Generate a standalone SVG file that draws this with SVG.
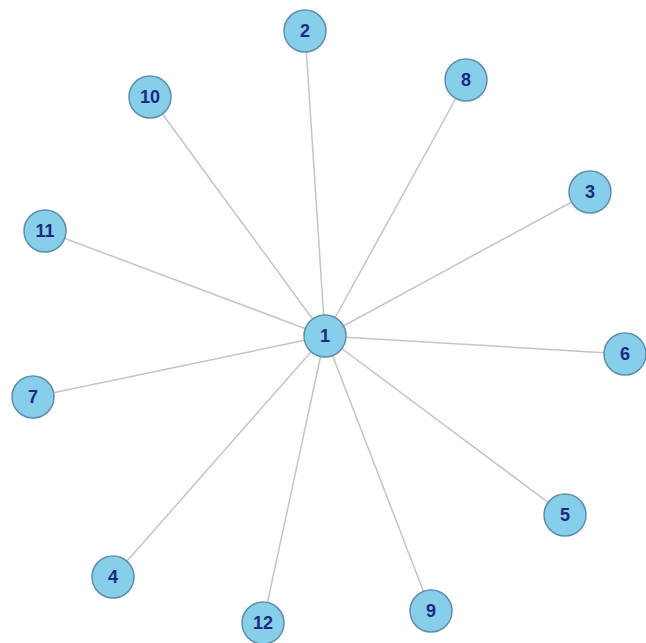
<svg xmlns="http://www.w3.org/2000/svg" width="646" height="643" viewBox="0 0 646 643">
<style>
.edge{stroke:#c4c4c4;stroke-width:1.5;fill:none}
.node circle{fill:#87ceeb;stroke:#5f8fa8;stroke-width:1.5}
.node text{font-family:"Liberation Sans",Arial,sans-serif;font-weight:bold;font-size:18px;fill:#1a2a80;text-anchor:middle;dominant-baseline:central}
</style>
<rect width="646" height="643" fill="#ffffff"/>
<g id="connectors">
<line class="edge" x1="325" y1="336" x2="305" y2="31"/>
<line class="edge" x1="325" y1="336" x2="466" y2="80"/>
<line class="edge" x1="325" y1="336" x2="150" y2="97"/>
<line class="edge" x1="325" y1="336" x2="590" y2="192"/>
<line class="edge" x1="325" y1="336" x2="45" y2="231"/>
<line class="edge" x1="325" y1="336" x2="625" y2="354"/>
<line class="edge" x1="325" y1="336" x2="33" y2="397"/>
<line class="edge" x1="325" y1="336" x2="565" y2="515"/>
<line class="edge" x1="325" y1="336" x2="113" y2="577"/>
<line class="edge" x1="325" y1="336" x2="263" y2="623"/>
<line class="edge" x1="325" y1="336" x2="431" y2="611"/>
</g>
<g id="node1" class="node"><circle cx="325" cy="336" r="21"/><text x="325" y="336">1</text></g>
<g id="node2" class="node"><circle cx="305" cy="31" r="21"/><text x="305" y="31">2</text></g>
<g id="node8" class="node"><circle cx="466" cy="80" r="21"/><text x="466" y="80">8</text></g>
<g id="node10" class="node"><circle cx="150" cy="97" r="21"/><text x="150" y="97">10</text></g>
<g id="node3" class="node"><circle cx="590" cy="192" r="21"/><text x="590" y="192">3</text></g>
<g id="node11" class="node"><circle cx="45" cy="231" r="21"/><text x="45" y="231">11</text></g>
<g id="node6" class="node"><circle cx="625" cy="354" r="21"/><text x="625" y="354">6</text></g>
<g id="node7" class="node"><circle cx="33" cy="397" r="21"/><text x="33" y="397">7</text></g>
<g id="node5" class="node"><circle cx="565" cy="515" r="21"/><text x="565" y="515">5</text></g>
<g id="node4" class="node"><circle cx="113" cy="577" r="21"/><text x="113" y="577">4</text></g>
<g id="node12" class="node"><circle cx="263" cy="623" r="21"/><text x="263" y="623">12</text></g>
<g id="node9" class="node"><circle cx="431" cy="611" r="21"/><text x="431" y="611">9</text></g>
</svg>
